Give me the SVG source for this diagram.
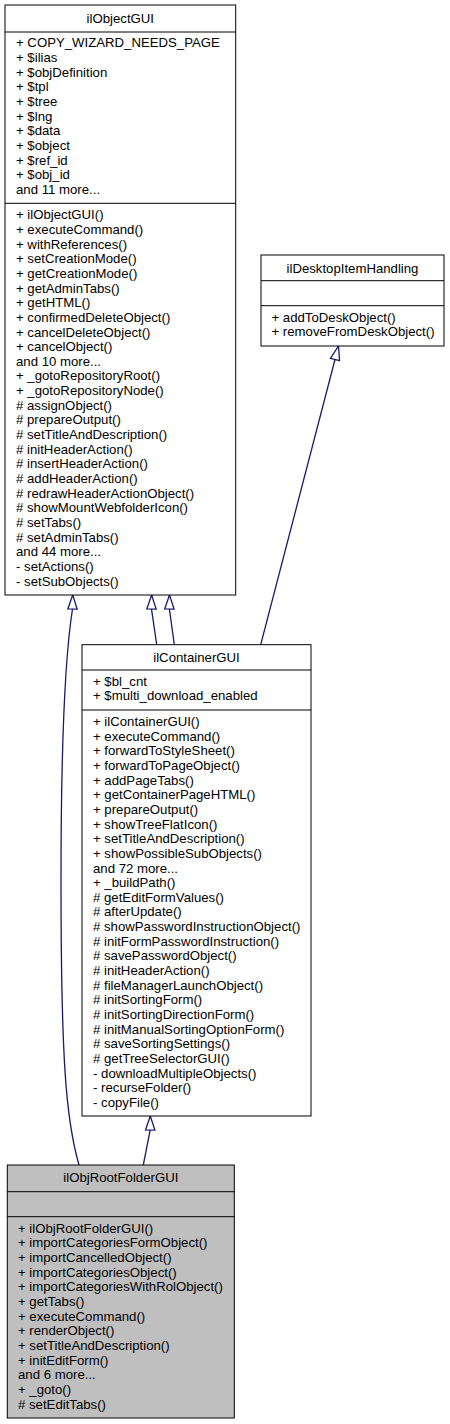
<svg xmlns="http://www.w3.org/2000/svg" width="450" height="1424" viewBox="0 0 450 1424">
<style>
text{font-family:"Liberation Sans",Arial,Helvetica,sans-serif;font-size:13.2px;fill:#000}
.t{text-anchor:middle}
.box{fill:#fff;stroke:#000;stroke-width:1}
.cur{fill:#bfbfbf;stroke:#000;stroke-width:1}
.div{stroke:#000;stroke-width:1}
.edge{fill:none;stroke:#191970;stroke-width:1.3}
</style>
<defs>
<marker id="inh" markerUnits="userSpaceOnUse" markerWidth="18" markerHeight="14" viewBox="-2 -7 18 14" refX="14" refY="0" orient="auto" overflow="visible">
<path d="M0,-4.7 L14,0 L0,4.7 Z" fill="#fff" stroke="#191970" stroke-width="1.3"/>
</marker>
</defs>
<g id="connectors">
<path class="edge" d="M79,1165 C66,1120 61,1060 61,880 C61,720 66,650 72.5,609 L72.7,595" marker-end="url(#inh)"/>
<path class="edge" d="M156.7,644.7 L151.5,609 L151.6,595" marker-end="url(#inh)"/>
<path class="edge" d="M174.3,644.7 L169.4,609 L169.5,595" marker-end="url(#inh)"/>
<path class="edge" d="M260.7,644.7 L335,359.5 L338.5,346" marker-end="url(#inh)"/>
<path class="edge" d="M143.3,1165 L150.2,1130 L150.3,1116" marker-end="url(#inh)"/>
</g>
<g id="ilObjectGUI">
<rect class="box" x="5" y="5" width="230.7" height="590"/>
<line class="div" x1="5" y1="32" x2="235.7" y2="32"/>
<line class="div" x1="5" y1="203.3" x2="235.7" y2="203.3"/>
<text class="t" x="120.3" y="22.5">ilObjectGUI</text>
<text x="16">
<tspan x="16" y="47.3">+ COPY_WIZARD_NEEDS_PAGE</tspan>
<tspan x="16" y="61.95">+ $ilias</tspan>
<tspan x="16" y="76.6">+ $objDefinition</tspan>
<tspan x="16" y="91.25">+ $tpl</tspan>
<tspan x="16" y="105.9">+ $tree</tspan>
<tspan x="16" y="120.55">+ $lng</tspan>
<tspan x="16" y="135.2">+ $data</tspan>
<tspan x="16" y="149.85">+ $object</tspan>
<tspan x="16" y="164.5">+ $ref_id</tspan>
<tspan x="16" y="179.15">+ $obj_id</tspan>
<tspan x="16" y="193.8">and 11 more...</tspan>
</text>
<text x="16">
<tspan x="16" y="219.3">+ ilObjectGUI()</tspan>
<tspan x="16" y="233.95">+ executeCommand()</tspan>
<tspan x="16" y="248.6">+ withReferences()</tspan>
<tspan x="16" y="263.25">+ setCreationMode()</tspan>
<tspan x="16" y="277.9">+ getCreationMode()</tspan>
<tspan x="16" y="292.55">+ getAdminTabs()</tspan>
<tspan x="16" y="307.2">+ getHTML()</tspan>
<tspan x="16" y="321.85">+ confirmedDeleteObject()</tspan>
<tspan x="16" y="336.5">+ cancelDeleteObject()</tspan>
<tspan x="16" y="351.15">+ cancelObject()</tspan>
<tspan x="16" y="365.8">and 10 more...</tspan>
<tspan x="16" y="380.45">+ _gotoRepositoryRoot()</tspan>
<tspan x="16" y="395.1">+ _gotoRepositoryNode()</tspan>
<tspan x="16" y="409.75"># assignObject()</tspan>
<tspan x="16" y="424.4"># prepareOutput()</tspan>
<tspan x="16" y="439.05"># setTitleAndDescription()</tspan>
<tspan x="16" y="453.7"># initHeaderAction()</tspan>
<tspan x="16" y="468.35"># insertHeaderAction()</tspan>
<tspan x="16" y="483"># addHeaderAction()</tspan>
<tspan x="16" y="497.65"># redrawHeaderActionObject()</tspan>
<tspan x="16" y="512.3"># showMountWebfolderIcon()</tspan>
<tspan x="16" y="526.95"># setTabs()</tspan>
<tspan x="16" y="541.6"># setAdminTabs()</tspan>
<tspan x="16" y="556.25">and 44 more...</tspan>
<tspan x="16" y="570.9">- setActions()</tspan>
<tspan x="16" y="585.55">- setSubObjects()</tspan>
</text>
</g>
<g id="ilDesktopItemHandling">
<rect class="box" x="261" y="255" width="183" height="91"/>
<line class="div" x1="261" y1="280.7" x2="444" y2="280.7"/>
<line class="div" x1="261" y1="305.7" x2="444" y2="305.7"/>
<text class="t" x="352.5" y="272.5">ilDesktopItemHandling</text>
<text x="271.5">
<tspan x="271.5" y="321.7">+ addToDeskObject()</tspan>
<tspan x="271.5" y="336.35">+ removeFromDeskObject()</tspan>
</text>
</g>
<g id="ilContainerGUI">
<rect class="box" x="82" y="644.7" width="229" height="471.3"/>
<line class="div" x1="82" y1="670" x2="311" y2="670"/>
<line class="div" x1="82" y1="710" x2="311" y2="710"/>
<text class="t" x="196.5" y="661.5">ilContainerGUI</text>
<text x="93">
<tspan x="93" y="685.7">+ $bl_cnt</tspan>
<tspan x="93" y="700.35">+ $multi_download_enabled</tspan>
</text>
<text x="93">
<tspan x="93" y="726">+ ilContainerGUI()</tspan>
<tspan x="93" y="740.65">+ executeCommand()</tspan>
<tspan x="93" y="755.3">+ forwardToStyleSheet()</tspan>
<tspan x="93" y="769.95">+ forwardToPageObject()</tspan>
<tspan x="93" y="784.6">+ addPageTabs()</tspan>
<tspan x="93" y="799.25">+ getContainerPageHTML()</tspan>
<tspan x="93" y="813.9">+ prepareOutput()</tspan>
<tspan x="93" y="828.55">+ showTreeFlatIcon()</tspan>
<tspan x="93" y="843.2">+ setTitleAndDescription()</tspan>
<tspan x="93" y="857.85">+ showPossibleSubObjects()</tspan>
<tspan x="93" y="872.5">and 72 more...</tspan>
<tspan x="93" y="887.15">+ _buildPath()</tspan>
<tspan x="93" y="901.8"># getEditFormValues()</tspan>
<tspan x="93" y="916.45"># afterUpdate()</tspan>
<tspan x="93" y="931.1"># showPasswordInstructionObject()</tspan>
<tspan x="93" y="945.75"># initFormPasswordInstruction()</tspan>
<tspan x="93" y="960.4"># savePasswordObject()</tspan>
<tspan x="93" y="975.05"># initHeaderAction()</tspan>
<tspan x="93" y="989.7"># fileManagerLaunchObject()</tspan>
<tspan x="93" y="1004.35"># initSortingForm()</tspan>
<tspan x="93" y="1019"># initSortingDirectionForm()</tspan>
<tspan x="93" y="1033.65"># initManualSortingOptionForm()</tspan>
<tspan x="93" y="1048.3"># saveSortingSettings()</tspan>
<tspan x="93" y="1062.95"># getTreeSelectorGUI()</tspan>
<tspan x="93" y="1077.6">- downloadMultipleObjects()</tspan>
<tspan x="93" y="1092.25">- recurseFolder()</tspan>
<tspan x="93" y="1106.9">- copyFile()</tspan>
</text>
</g>
<g id="ilObjRootFolderGUI">
<rect class="cur" x="7.3" y="1165" width="227" height="253"/>
<line class="div" x1="7.3" y1="1191.7" x2="234.3" y2="1191.7"/>
<line class="div" x1="7.3" y1="1216.7" x2="234.3" y2="1216.7"/>
<text class="t" x="120.8" y="1182">ilObjRootFolderGUI</text>
<text x="18">
<tspan x="18" y="1232.7">+ ilObjRootFolderGUI()</tspan>
<tspan x="18" y="1247.35">+ importCategoriesFormObject()</tspan>
<tspan x="18" y="1262">+ importCancelledObject()</tspan>
<tspan x="18" y="1276.65">+ importCategoriesObject()</tspan>
<tspan x="18" y="1291.3">+ importCategoriesWithRolObject()</tspan>
<tspan x="18" y="1305.95">+ getTabs()</tspan>
<tspan x="18" y="1320.6">+ executeCommand()</tspan>
<tspan x="18" y="1335.25">+ renderObject()</tspan>
<tspan x="18" y="1349.9">+ setTitleAndDescription()</tspan>
<tspan x="18" y="1364.55">+ initEditForm()</tspan>
<tspan x="18" y="1379.2">and 6 more...</tspan>
<tspan x="18" y="1393.85">+ _goto()</tspan>
<tspan x="18" y="1408.5"># setEditTabs()</tspan>
</text>
</g>
</svg>
